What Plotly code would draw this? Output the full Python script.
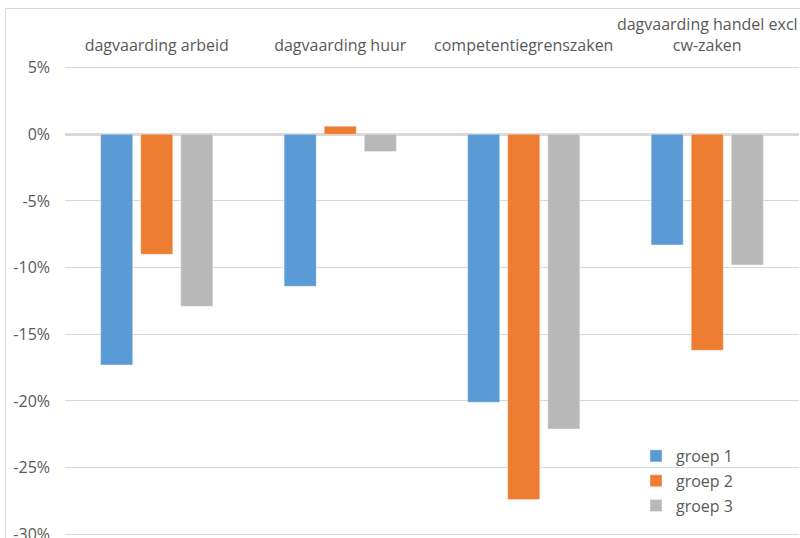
import plotly.graph_objects as go

# Categories and percentage change per group
categories = [
    "dagvaarding arbeid",
    "dagvaarding huur",
    "competentiegrenszaken",
    "dagvaarding handel excl<br>cw-zaken",
]
groep_1 = [-17.3, -11.4, -20.1, -8.3]
groep_2 = [-9.0, 0.6, -27.4, -16.2]
groep_3 = [-12.9, -1.3, -22.1, -9.8]
series_names = ["groep 1", "groep 2", "groep 3"]
y_ticks = [5, 0, -5, -10, -15, -20, -25, -30]

colors = ["#5b9bd5", "#ed7d31", "#b8b8b8"]
font_family = "'Open Sans', sans-serif"
text_color = "#595959"
grid_color = "#d9d9d9"
fs = 16

fig = go.Figure()
for i, (name, vals, col) in enumerate(zip(series_names, [groep_1, groep_2, groep_3], colors)):
    fig.add_trace(go.Bar(
        x=categories, y=vals, name=name, legendgroup=f"g{i}",
        marker=dict(color=col, line=dict(color="rgba(255,255,255,0.35)", width=1)),
    ))

W, H = 800, 538
l, r, t, b = 65, 1, 60, 0

fig.update_layout(
    width=W, height=H,
    margin=dict(l=l, r=r, t=t, b=b, autoexpand=False),
    paper_bgcolor="white",
    plot_bgcolor="white",
    barmode="group",
    bargap=0.345,
    bargroupgap=0.2,
    font=dict(family=font_family, size=fs, color=text_color),
    legend=dict(
        x=(636 - l) / (W - l - r), y=(538 - 439) / (H - t - b),
        xanchor="left", yanchor="top",
        font=dict(size=fs, color=text_color),
        bgcolor="rgba(0,0,0,0)",
        itemwidth=30,
        tracegroupgap=1,
    ),
    xaxis=dict(
        side="top",
        showgrid=False,
        showline=False,
        ticks="",
        tickfont=dict(size=fs, color=text_color),
        ticklabelstandoff=5,
        automargin=False,
    ),
    yaxis=dict(
        range=[-30.28, 5.57],
        tickvals=y_ticks,
        ticktext=[f"{v}%" for v in y_ticks],
        showgrid=True,
        gridcolor=grid_color,
        gridwidth=1,
        zeroline=True,
        zerolinecolor=grid_color,
        zerolinewidth=3,
        showline=False,
        ticks="",
        tickfont=dict(size=fs, color=text_color),
        ticklabelstandoff=14,
        ticklabeloverflow="allow",
        automargin=False,
    ),
    shapes=[
        dict(
            type="rect", xref="paper", yref="paper", layer="below",
            x0=(5.5 - l) / (W - l - r), x1=1.05,
            y0=-0.1, y1=(538 - 8.5) / (H - t - b),
            line=dict(color=grid_color, width=1),
            fillcolor="rgba(0,0,0,0)",
        )
    ],
)

fig.write_html("out.html")
